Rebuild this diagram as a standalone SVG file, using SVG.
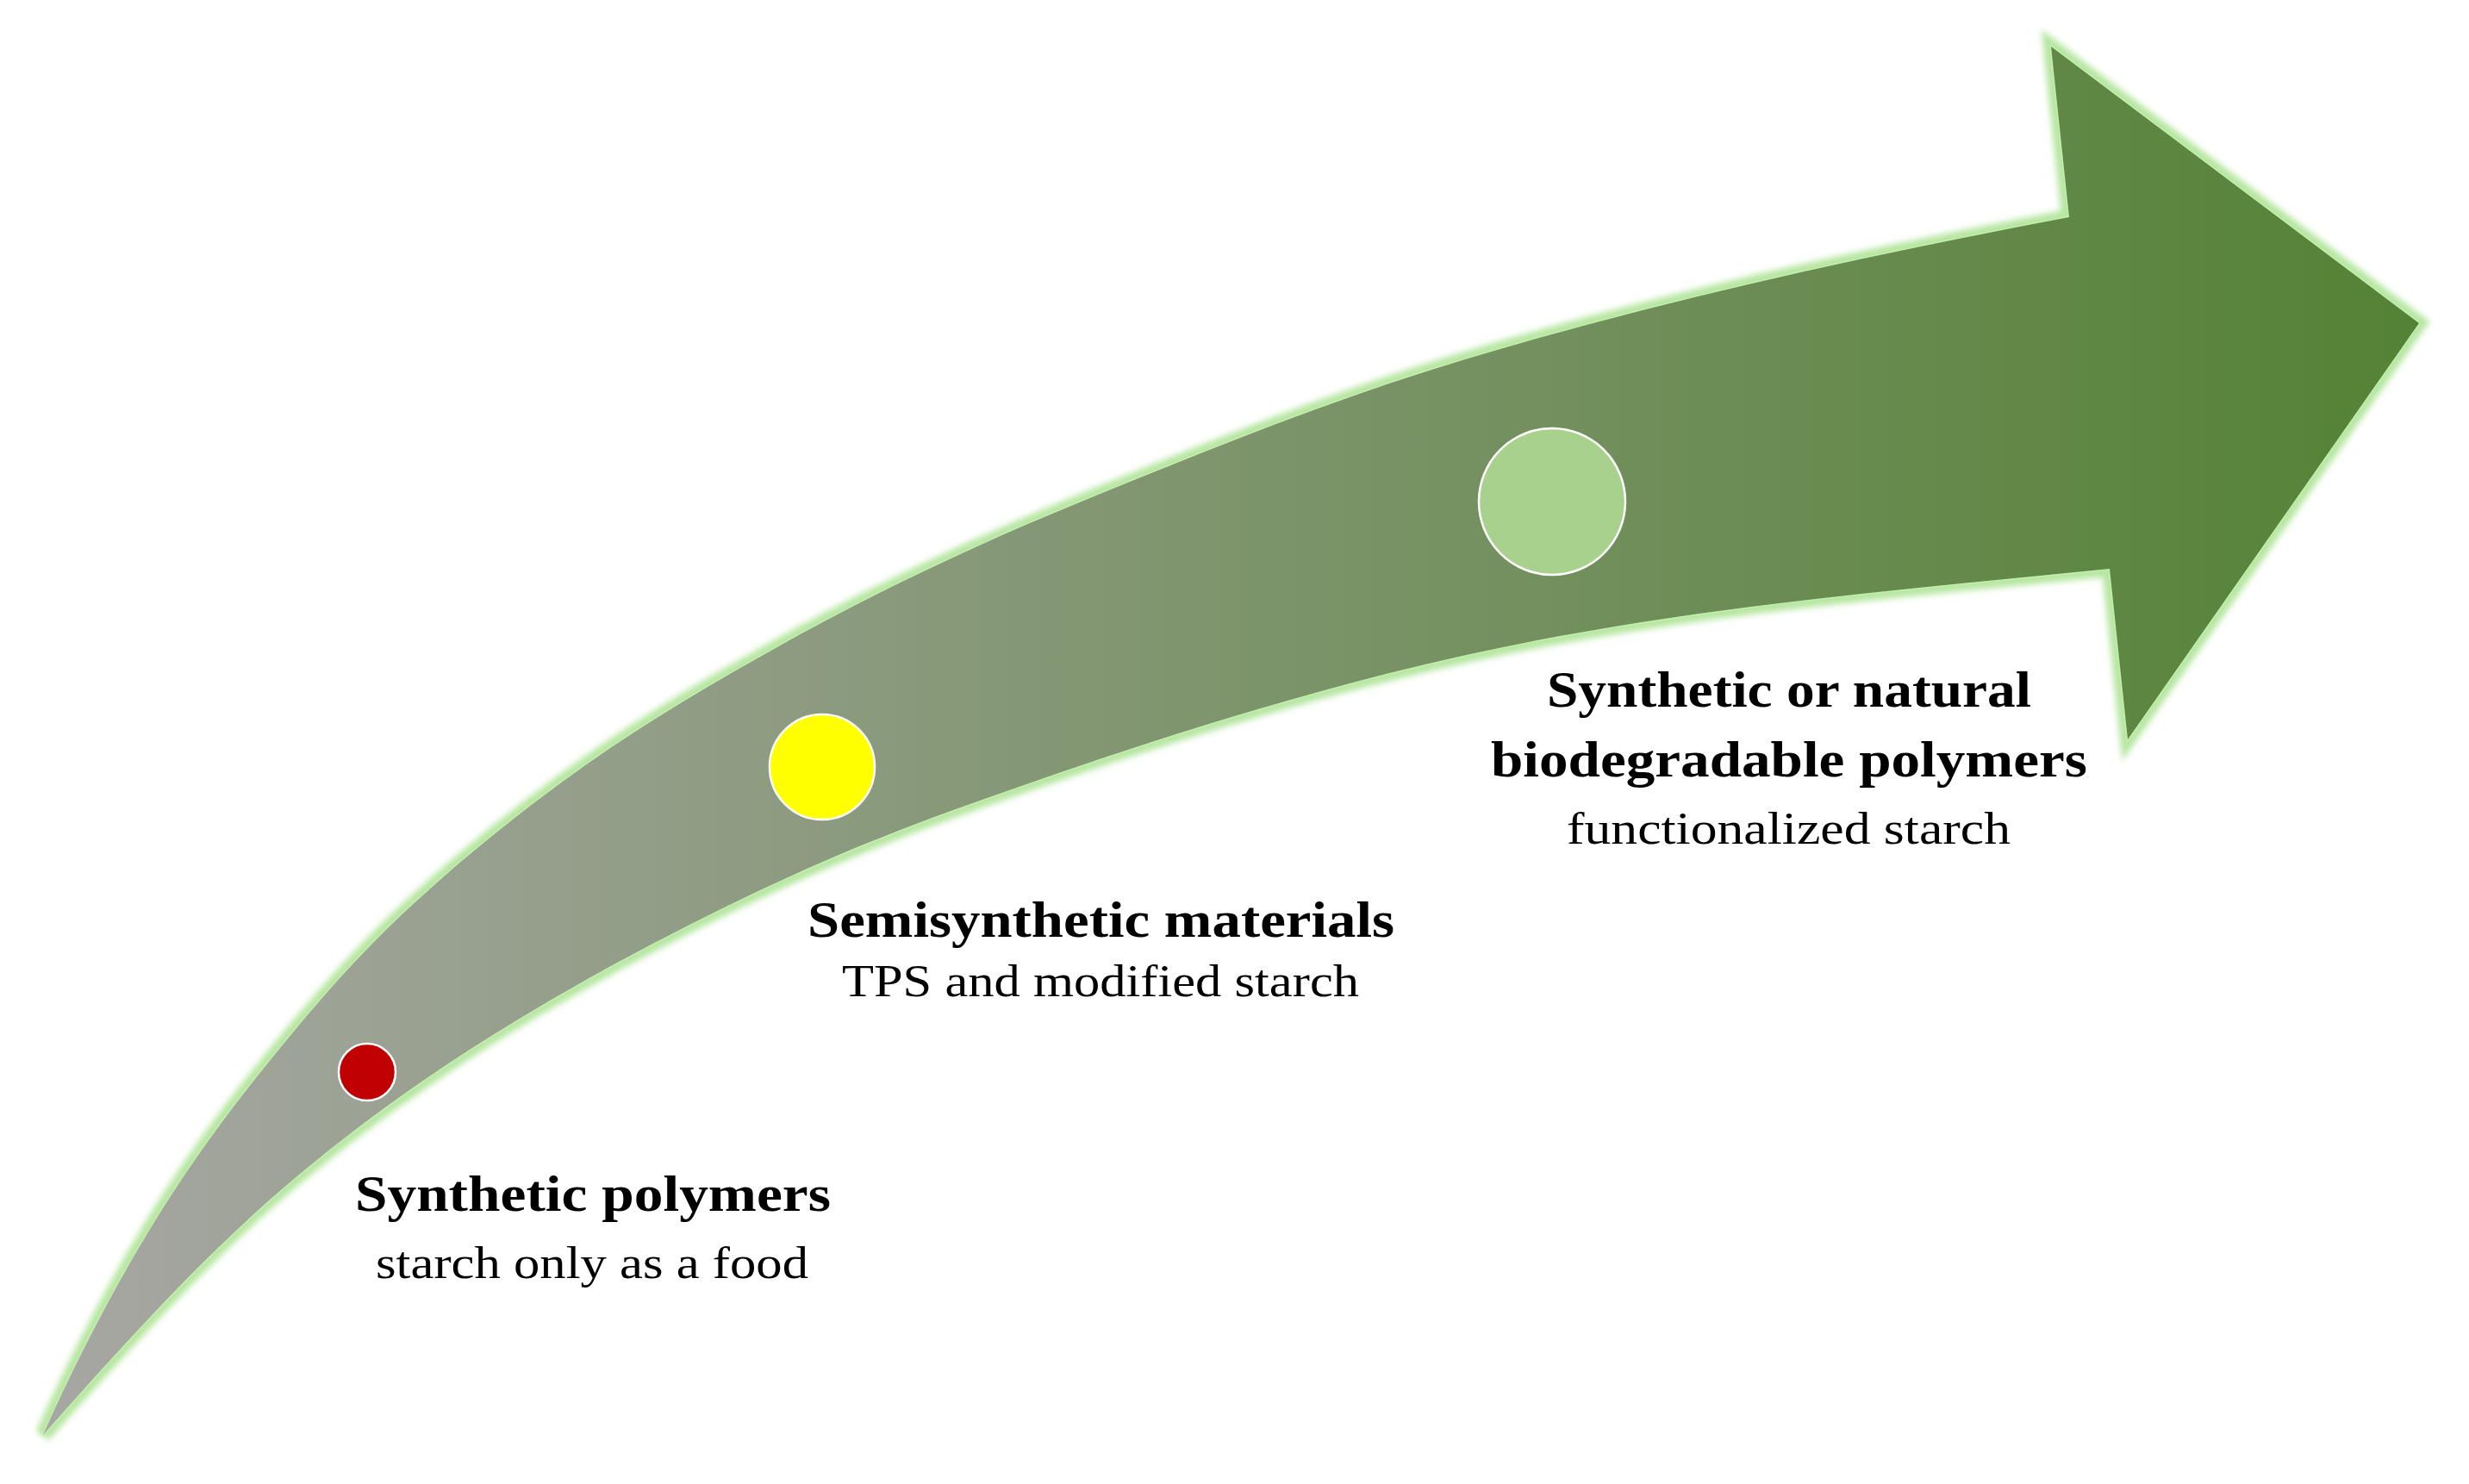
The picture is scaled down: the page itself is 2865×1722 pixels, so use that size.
<svg xmlns="http://www.w3.org/2000/svg" width="2865" height="1722" viewBox="0 0 2865 1722">
  <defs>
    <linearGradient id="arrowGrad" gradientUnits="userSpaceOnUse" x1="50" y1="0" x2="2810" y2="0">
      <stop offset="0" stop-color="#a7a7a3"/>
      <stop offset="1" stop-color="#548235"/>
    </linearGradient>
    <filter id="glow" x="-5%" y="-5%" width="110%" height="110%">
      <feGaussianBlur stdDeviation="3.5"/>
    </filter>
    <path id="arrowShape" d="M 50 1665
      C 75 1608.5 100 1558.5 125 1512
      C 150 1465.5 175 1423.5 200 1385
      C 233.33 1333.67 266.67 1288.67 300 1247
      C 350 1184.5 400 1125.5 450 1077
      C 516.67 1012.33 583.33 958.33 650 909
      C 733.33 847.33 816.67 798.67 900 752
      C 1016.67 686.67 1133.33 631.83 1250 584
      C 1400 522.5 1550 462 1700 417
      C 1933.67 346.9 2167.33 296.4 2401 252
      L 2380 54
      L 2807 375
      L 2469 858
      L 2448 660
      C 2200.7 684.7 1953.3 704.6 1706 759
      C 1506 803 1306 868 1106 940
      C 957 993.6 808 1064.1 659 1149
      C 550.7 1210.7 442.3 1281.9 334 1374
      C 239.3 1454.5 144.7 1557.9 50 1665 Z"/>
  </defs>
  <style>
    .title { font-family: "Liberation Serif", "DejaVu Serif", serif; font-weight: bold; font-size: 60px; fill: #000000; }
    .sub { font-family: "Liberation Serif", "DejaVu Serif", serif; font-size: 53px; fill: #000000; }
    .dot { stroke: #ffffff; stroke-width: 2.5; }
  </style>
  <rect x="0" y="0" width="2865" height="1722" fill="#ffffff"/>

  <g id="connectors">
    <g id="timeline-arrow">
      <use href="#arrowShape" fill="none" stroke="#b6e6a0" stroke-width="18" stroke-linejoin="miter" filter="url(#glow)"/>
      <use href="#arrowShape" fill="url(#arrowGrad)" stroke="#c4eeb0" stroke-width="3"/>
      <use href="#arrowShape" fill="url(#arrowGrad)"/>
    </g>
  </g>

  <g id="node-synthetic">
    <circle class="dot" cx="426" cy="1244" r="33" fill="#c00000"/>
    <text class="title" x="412" y="1405" textLength="552" lengthAdjust="spacingAndGlyphs">Synthetic polymers</text>
    <text class="sub" x="436" y="1483" textLength="502" lengthAdjust="spacingAndGlyphs">starch only as a food</text>
  </g>

  <g id="node-semisynthetic">
    <circle class="dot" cx="954" cy="890" r="61" fill="#ffff00"/>
    <text class="title" x="937" y="1087" textLength="681" lengthAdjust="spacingAndGlyphs">Semisynthetic materials</text>
    <text class="sub" x="977" y="1156" textLength="600" lengthAdjust="spacingAndGlyphs">TPS and modified starch</text>
  </g>

  <g id="node-biodegradable">
    <circle class="dot" cx="1801" cy="582" r="85" fill="#a9d18e"/>
    <text class="title" x="1795" y="820" textLength="562" lengthAdjust="spacingAndGlyphs">Synthetic or natural</text>
    <text class="title" x="1730" y="901" textLength="692" lengthAdjust="spacingAndGlyphs">biodegradable polymers</text>
    <text class="sub" x="1818" y="979" textLength="515" lengthAdjust="spacingAndGlyphs">functionalized starch</text>
  </g>
</svg>
